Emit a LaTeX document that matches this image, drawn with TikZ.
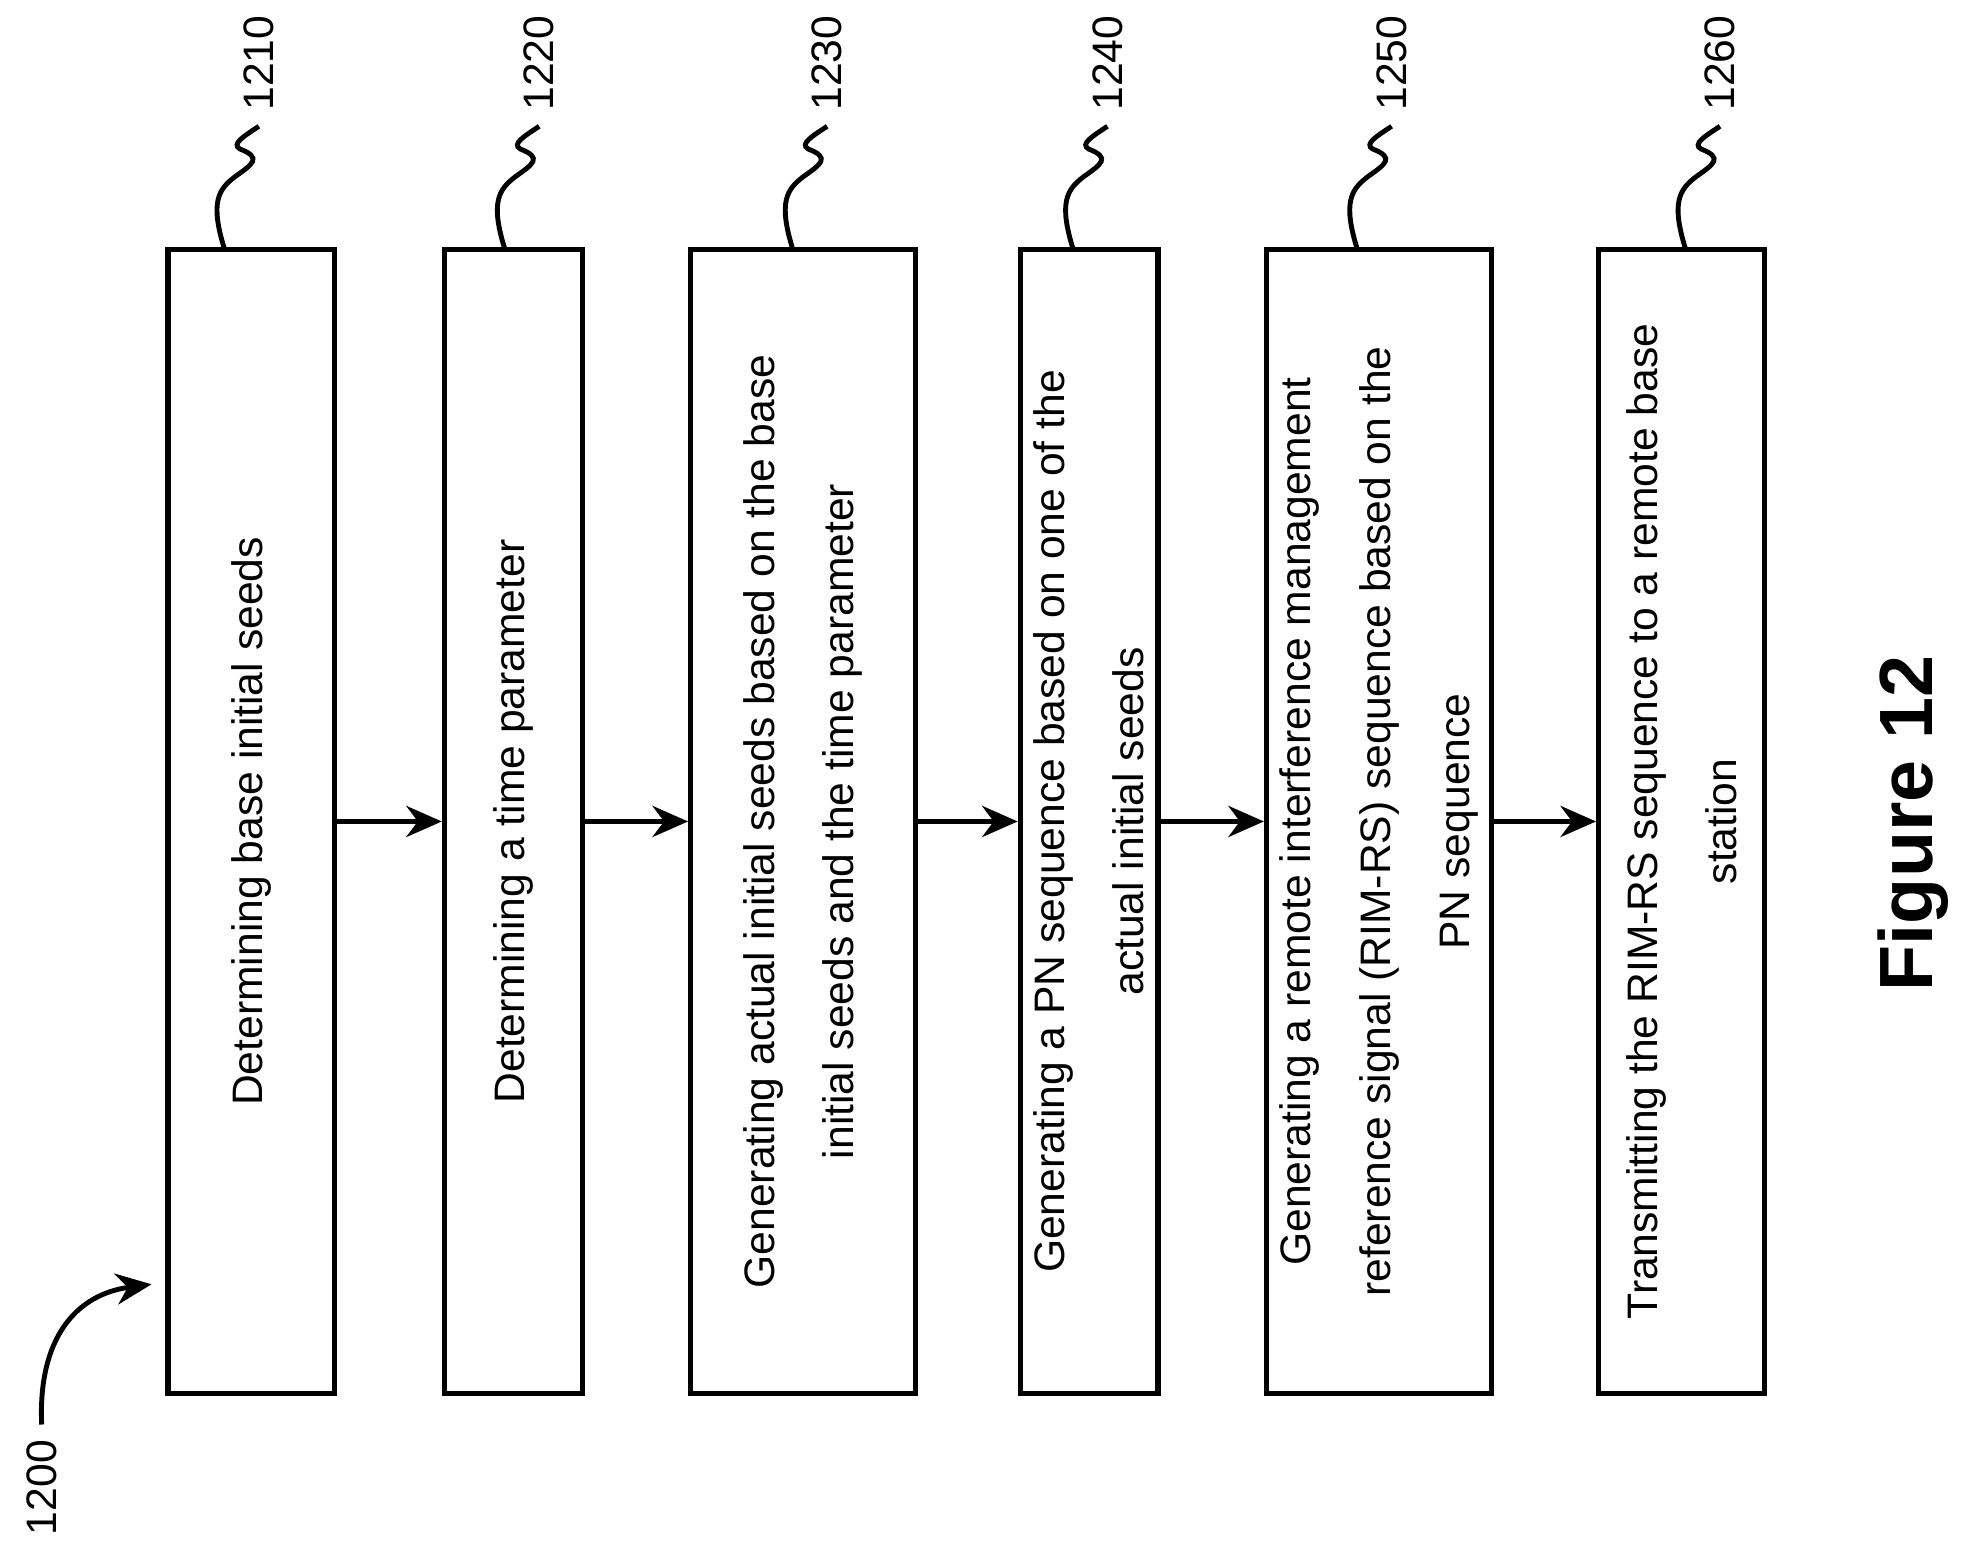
\documentclass[tikz,border=0pt]{standalone}
\usepackage{fontspec}
\setmainfont{Liberation Sans}
\usetikzlibrary{arrows.meta}
\tikzset{
    stepbox/.style={rectangle, draw, line width=1.2pt, rotate=90, align=center, inner sep=0pt,
        font=\fontsize{9.6}{17.8}\selectfont},
    ref/.style={rotate=90, font=\fontsize{9.6}{12}\selectfont, anchor=west},
    flow/.style={->, line width=1.1pt, >={Stealth[length=8pt,width=7pt]}},
    lead/.style={line width=1.1pt}
}
\begin{document}
\begin{tikzpicture}[x=0.01cm, y=-0.01cm]
    \useasboundingbox (0,0) rectangle (1560,1234);
    % steps
    \node[stepbox, minimum width=9.05cm, minimum height=1.32cm] at (199,650.5) (s1210) {Determining base initial seeds};
    \node[stepbox, minimum width=9.05cm, minimum height=1.09cm] at (406.5,650.5) (s1220) {Determining a time parameter};
    \node[stepbox, minimum width=9.05cm, minimum height=1.78cm] at (636,650.5) (s1230) {Generating actual initial seeds based on the base\\initial seeds and the time parameter};
    \node[stepbox, minimum width=9.05cm, minimum height=1.09cm] at (862.5,650.5) (s1240) {Generating a PN sequence based on one of the\\actual initial seeds};
    \node[stepbox, minimum width=9.05cm, minimum height=1.78cm] at (1092,650.5) (s1250) {Generating a remote interference management\\reference signal (RIM-RS) sequence based on the\\PN sequence};
    \node[stepbox, minimum width=9.05cm, minimum height=1.31cm] at (1331.5,650.5) (s1260) {Transmitting the RIM-RS sequence to a remote base\\station};
    \draw[flow] (s1210.south) -- (s1220.north);
    \draw[flow] (s1220.south) -- (s1230.north);
    \draw[flow] (s1230.south) -- (s1240.north);
    \draw[flow] (s1240.south) -- (s1250.north);
    \draw[flow] (s1250.south) -- (s1260.north);
    % reference numerals
    \foreach \x/\n in {178/1210, 400/1220, 628/1230, 850/1240, 1075/1250, 1335/1260} {
        \node[ref] at (\x+27,100) (r\n) {\n};
        \draw[lead] (\x,198) .. controls (\x-12,160) and (\x-5,150) .. (\x+8,140)
            .. controls (\x+22,130) and (\x+30,125) .. (\x+12,118)
            .. controls (\x+5,114) and (\x+15,108) .. (r\n.west);
    }
    \node[ref] at (33,1228) (r1200) {1200};
    \coordinate (aim) at (120,1017);
    \draw[flow] (r1200.east) .. controls (30,1060) and (60,1025) .. (aim);
    \node[rotate=90, font=\bfseries\fontsize{17}{20}\selectfont] at (1515,652) (fig) {Figure 12};
\end{tikzpicture}
\end{document}
